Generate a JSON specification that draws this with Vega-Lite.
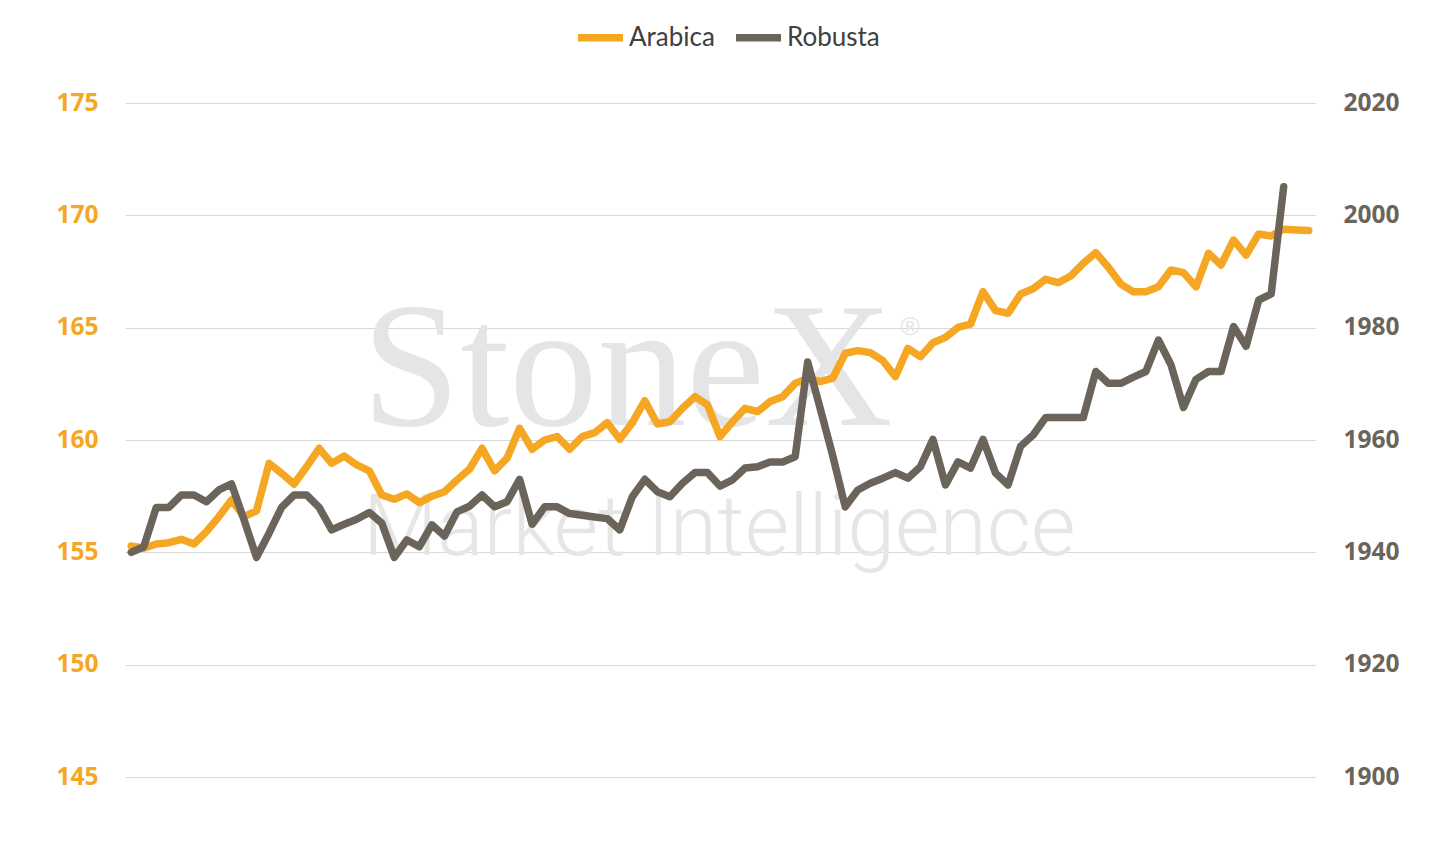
{
  "$schema": "https://vega.github.io/schema/vega-lite/v6.json",
  "width": 1190,
  "height": 674,
  "autosize": "none",
  "padding": {"left": 125, "top": 103, "right": 139, "bottom": 65},
  "background": "white",
  "config": {"view": {"stroke": null}, "font": "Lato"},
  "data": {"values": [
    {"i":0,"a":155.28,"r":1940},{"i":1,"a":155.18,"r":1941},{"i":2,"a":155.37,"r":1948},{"i":3,"a":155.43,"r":1948},
    {"i":4,"a":155.58,"r":1950.2},{"i":5,"a":155.37,"r":1950.2},{"i":6,"a":155.92,"r":1949},{"i":7,"a":156.59,"r":1951.1},
    {"i":8,"a":157.33,"r":1952.2},{"i":9,"a":156.59,"r":1945.8},{"i":10,"a":156.85,"r":1939.1},{"i":11,"a":158.96,"r":1943.4},
    {"i":12,"a":158.52,"r":1948},{"i":13,"a":158.04,"r":1950.2},{"i":14,"a":158.81,"r":1950.2},{"i":15,"a":159.63,"r":1948},
    {"i":16,"a":158.96,"r":1944},{"i":17,"a":159.29,"r":1945},{"i":18,"a":158.89,"r":1945.9},{"i":19,"a":158.63,"r":1947.1},
    {"i":20,"a":157.55,"r":1945.2},{"i":21,"a":157.36,"r":1939.1},{"i":22,"a":157.6,"r":1942.2},{"i":23,"a":157.21,"r":1941},
    {"i":24,"a":157.5,"r":1944.9},{"i":25,"a":157.7,"r":1942.9},{"i":26,"a":158.22,"r":1947.2},{"i":27,"a":158.7,"r":1948.2},
    {"i":28,"a":159.63,"r":1950.2},{"i":29,"a":158.63,"r":1948.1},{"i":30,"a":159.19,"r":1949},{"i":31,"a":160.52,"r":1953},
    {"i":32,"a":159.59,"r":1945},{"i":33,"a":160.0,"r":1948.1},{"i":34,"a":160.15,"r":1948.1},{"i":35,"a":159.59,"r":1946.9},
    {"i":36,"a":160.15,"r":1946.6},{"i":37,"a":160.33,"r":1946.3},{"i":38,"a":160.77,"r":1946},{"i":39,"a":160.03,"r":1944},
    {"i":40,"a":160.77,"r":1949.9},{"i":41,"a":161.75,"r":1953},{"i":42,"a":160.71,"r":1950.8},{"i":43,"a":160.81,"r":1949.9},
    {"i":44,"a":161.41,"r":1952.3},{"i":45,"a":161.93,"r":1954.2},{"i":46,"a":161.56,"r":1954.2},{"i":47,"a":160.15,"r":1951.8},
    {"i":48,"a":160.81,"r":1952.9},{"i":49,"a":161.41,"r":1955},{"i":50,"a":161.26,"r":1955.25},{"i":51,"a":161.71,"r":1956.1},
    {"i":52,"a":161.93,"r":1956.1},{"i":53,"a":162.52,"r":1957},{"i":54,"a":162.75,"r":1973.9},{"i":55,"a":162.6,"r":1965.6},
    {"i":56,"a":162.75,"r":1957.2},{"i":57,"a":163.86,"r":1948.1},{"i":58,"a":163.98,"r":1951.1},{"i":59,"a":163.89,"r":1952.3},
    {"i":60,"a":163.53,"r":1953.2},{"i":61,"a":162.82,"r":1954.2},{"i":62,"a":164.08,"r":1953.2},{"i":63,"a":163.71,"r":1955.25},
    {"i":64,"a":164.33,"r":1960.1},{"i":65,"a":164.57,"r":1952},{"i":66,"a":165.01,"r":1956.1},{"i":67,"a":165.16,"r":1955},
    {"i":68,"a":166.6,"r":1960.1},{"i":69,"a":165.76,"r":1954.1},{"i":70,"a":165.64,"r":1952},{"i":71,"a":166.5,"r":1958.9},
    {"i":72,"a":166.73,"r":1960.9},{"i":73,"a":167.15,"r":1964},{"i":74,"a":167.0,"r":1964},{"i":75,"a":167.3,"r":1964},
    {"i":76,"a":167.86,"r":1964},{"i":77,"a":168.34,"r":1972.2},{"i":78,"a":167.69,"r":1970.1},{"i":79,"a":166.94,"r":1970.1},
    {"i":80,"a":166.6,"r":1971.2},{"i":81,"a":166.6,"r":1972.2},{"i":82,"a":166.82,"r":1977.8},{"i":83,"a":167.57,"r":1973.4},
    {"i":84,"a":167.45,"r":1965.8},{"i":85,"a":166.82,"r":1970.8},{"i":86,"a":168.31,"r":1972.2},{"i":87,"a":167.79,"r":1972.2},
    {"i":88,"a":168.9,"r":1980.2},{"i":89,"a":168.23,"r":1976.7},{"i":90,"a":169.17,"r":1984.9},{"i":91,"a":169.08,"r":1986},
    {"i":92,"a":169.38,"r":2005.1},{"i":93,"a":169.35},{"i":94,"a":169.32}
  ]},
  "layer": [
    {
      "data": {"values": [{}]},
      "mark": {"type": "text", "text": "StoneX", "font": "Liberation Serif", "fontSize": 177, "color": "#E4E5E7", "align": "left", "baseline": "alphabetic"},
      "encoding": {
        "x": {"datum": 18.4, "type": "quantitative", "scale": {"domain": [-0.5, 94.5], "nice": false, "zero": false}, "axis": null},
        "y": {"datum": 160.67, "type": "quantitative", "scale": {"domain": [145, 175], "nice": false, "zero": false}, "axis": null}
      }
    },
    {
      "data": {"values": [{}]},
      "mark": {"type": "text", "text": "®", "font": "Liberation Sans", "fontSize": 26, "color": "#E4E5E7", "align": "left", "baseline": "alphabetic"},
      "encoding": {
        "x": {"datum": 61.4, "type": "quantitative", "axis": null},
        "y": {"datum": 164.67, "type": "quantitative", "scale": {"domain": [145, 175], "nice": false, "zero": false}, "axis": null}
      }
    },
    {
      "data": {"values": [{}]},
      "mark": {"type": "text", "text": "Market Intelligence", "font": "Roboto", "fontWeight": 300, "fontSize": 86, "color": "#E6E6E6", "align": "left", "baseline": "alphabetic"},
      "encoding": {
        "x": {"datum": 18.5, "type": "quantitative", "axis": null},
        "y": {"datum": 154.9, "type": "quantitative", "scale": {"domain": [145, 175], "nice": false, "zero": false}, "axis": null}
      }
    },
    {
      "mark": {"type": "line", "strokeWidth": 7.5, "strokeCap": "round", "strokeJoin": "round"},
      "encoding": {
        "x": {"field": "i", "type": "quantitative", "axis": null},
        "y": {
          "field": "a", "type": "quantitative",
          "scale": {"domain": [145, 175], "nice": false, "zero": false},
          "axis": {"orient": "left", "values": [145, 150, 155, 160, 165, 170, 175], "title": null, "domain": false, "ticks": false,
                   "labelColor": "#F5A623", "labelFontWeight": "bold", "labelFontSize": 24.5, "labelFont": "Open Sans", "labelPadding": 27,
                   "grid": true, "gridColor": "#D9D9D9", "gridWidth": 1}
        },
        "color": {
          "datum": "Arabica", "type": "nominal",
          "scale": {"domain": ["Arabica", "Robusta"], "range": ["#F5A623", "#6B645A"]},
          "legend": {"orient": "none", "legendX": 449, "legendY": -92, "direction": "horizontal", "title": null,
                     "symbolType": "stroke", "symbolSize": 2025, "symbolStrokeWidth": 7.5,
                     "labelFontSize": 26, "labelColor": "#404040", "labelFont": "Lato", "labelOffset": 2, "columnPadding": 6}
        }
      }
    },
    {
      "mark": {"type": "line", "strokeWidth": 7.5, "strokeCap": "round", "strokeJoin": "round"},
      "encoding": {
        "x": {"field": "i", "type": "quantitative", "axis": null},
        "y": {
          "field": "r", "type": "quantitative",
          "scale": {"domain": [1900, 2020], "nice": false, "zero": false},
          "axis": {"orient": "right", "values": [1900, 1920, 1940, 1960, 1980, 2000, 2020], "title": null, "domain": false, "ticks": false,
                   "labelColor": "#6B645A", "labelFontWeight": "bold", "labelFontSize": 24.5, "labelFont": "Open Sans", "labelPadding": 28,
                   "grid": false, "format": "d"}
        },
        "color": {"datum": "Robusta", "type": "nominal"}
      }
    }
  ],
  "resolve": {"scale": {"y": "independent"}, "axis": {"y": "independent"}}
}
